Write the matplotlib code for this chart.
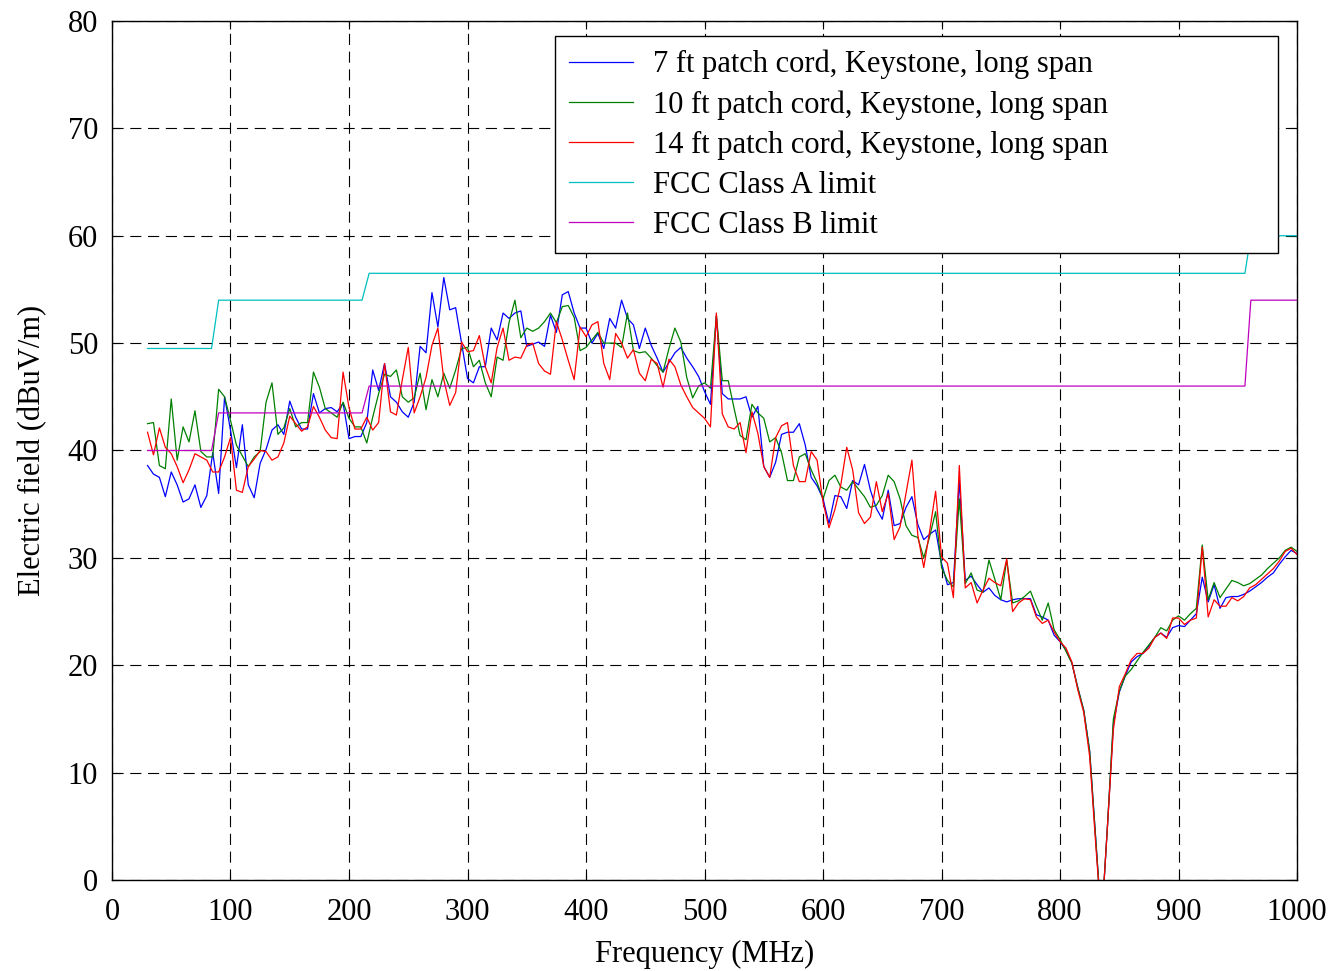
import numpy as np
import matplotlib
matplotlib.use("Agg")
import matplotlib.pyplot as plt

plt.rcParams['font.family'] = ['Liberation Serif', 'DejaVu Serif']

# Frequency sweep (MHz), 5 MHz steps
freq = np.arange(30, 1001, 5)

# 7 ft patch cord
blue = [38.6, 37.8, 37.5, 35.7, 38.0, 36.8, 35.2, 35.5, 36.8, 34.7,
        35.8, 39.8, 36.0, 45.0, 41.9, 38.4, 42.4, 36.8, 35.6, 38.8,
        40.1, 41.9, 42.4, 41.5, 44.6, 43.1, 42.0, 42.0, 45.3, 43.5,
        43.9, 44.0, 43.6, 44.4, 41.1, 41.3, 41.3, 42.6, 47.5, 45.6,
        48.1, 45.0, 44.5, 43.6, 43.1, 44.5, 49.7, 49.1, 54.7, 51.5,
        56.1, 53.1, 53.3, 50.0, 46.7, 46.3, 47.8, 47.8, 51.4, 50.3,
        52.8, 52.3, 52.8, 53.0, 49.7, 49.9, 50.1, 49.7, 52.6, 51.0,
        54.5, 54.8, 52.8, 51.4, 51.4, 50.0, 50.9, 49.5, 52.3, 51.4,
        54.0, 52.3, 51.7, 49.5, 51.4, 49.8, 48.6, 47.3, 48.2, 49.1,
        49.6, 48.6, 47.8, 46.9, 45.5, 44.3, 52.5, 45.3, 44.8, 44.8,
        44.8, 45.0, 43.1, 44.1, 38.5, 37.5, 38.9, 41.5, 41.7, 41.7,
        42.5, 40.5, 37.5, 36.7, 35.5, 33.2, 35.8, 35.7, 34.6, 37.2,
        36.8, 38.7, 36.3, 34.6, 33.6, 36.3, 33.0, 33.2, 34.7, 35.7,
        33.1, 31.7, 32.2, 32.6, 29.5, 27.5, 27.7, 37.2, 27.9, 28.3,
        27.5, 26.8, 27.2, 26.5, 26.1, 25.9, 26.1, 26.2, 26.2, 26.2,
        24.7, 24.5, 24.2, 22.8, 22.2, 21.4, 20.2, 17.9, 15.8, 12.0,
        4.0, -4.0, 5.0, 14.5, 17.5, 19.0, 20.3, 20.8, 21.1, 21.8,
        22.6, 23.0, 22.6, 23.5, 23.7, 23.6, 24.2, 24.8, 28.2, 25.9,
        27.5, 25.3, 26.3, 26.4, 26.4, 26.6, 26.9, 27.3, 27.7, 28.2,
        28.6, 29.4, 30.1, 30.7, 30.4]

# 10 ft patch cord
green = [42.5, 42.6, 38.6, 38.3, 44.8, 39.1, 42.2, 40.8, 43.7, 39.9,
         39.4, 39.4, 45.7, 45.0, 42.8, 40.5, 39.5, 38.5, 39.4, 39.9,
         44.5, 46.3, 41.5, 42.1, 43.9, 42.2, 42.6, 42.6, 47.3, 45.9,
         43.9, 43.5, 43.1, 44.5, 43.0, 42.2, 42.2, 40.7, 43.1, 45.3,
         47.1, 46.9, 47.5, 45.0, 44.5, 44.9, 47.2, 43.8, 46.6, 45.0,
         47.2, 45.8, 47.5, 49.5, 49.6, 47.8, 48.4, 46.3, 45.0, 48.7,
         48.4, 51.9, 54.0, 50.5, 51.4, 51.1, 51.4, 52.0, 52.8, 51.9,
         53.4, 53.5, 52.4, 49.3, 49.6, 50.3, 51.0, 50.0, 50.0, 50.0,
         49.6, 52.8, 49.3, 49.1, 49.2, 48.6, 47.9, 47.3, 49.5, 51.4,
         50.1, 46.8, 44.9, 46.0, 46.3, 45.8, 52.6, 46.5, 46.5, 43.9,
         41.4, 41.0, 44.3, 43.5, 43.0, 40.8, 41.2, 39.8, 37.2, 37.2,
         39.4, 39.7, 38.2, 37.0, 35.5, 37.2, 37.7, 36.6, 36.3, 37.1,
         36.4, 35.7, 34.7, 34.9, 35.8, 37.7, 37.1, 35.5, 33.0, 32.1,
         31.9, 30.0, 32.0, 34.3, 29.1, 27.9, 27.3, 35.5, 27.6, 28.6,
         27.0, 26.8, 29.8, 28.0, 26.1, 29.8, 25.8, 26.0, 26.4, 26.9,
         25.5, 24.2, 25.8, 23.3, 22.4, 21.3, 20.2, 17.9, 15.8, 12.0,
         4.0, -4.0, 5.0, 15.0, 17.6, 19.0, 19.6, 20.4, 21.2, 21.9,
         22.6, 23.5, 23.2, 24.2, 24.6, 24.2, 24.8, 25.3, 31.2, 26.1,
         27.7, 26.3, 27.1, 27.9, 27.7, 27.4, 27.6, 28.0, 28.4, 29.0,
         29.5, 30.0, 30.7, 31.0, 30.6]

# 14 ft patch cord
red = [41.7, 39.6, 42.1, 40.3, 39.7, 38.5, 37.0, 38.2, 39.7, 39.4,
       39.1, 38.0, 38.0, 39.4, 41.2, 36.3, 36.1, 38.5, 39.2, 40.0,
       39.9, 39.1, 39.4, 40.7, 43.2, 42.5, 41.8, 42.2, 44.1, 43.1,
       41.9, 41.2, 41.1, 47.3, 44.0, 42.0, 42.0, 43.1, 41.9, 42.6,
       48.1, 43.6, 43.3, 46.6, 49.6, 43.5, 45.0, 46.8, 49.8, 51.4,
       46.6, 44.2, 45.4, 50.1, 49.2, 49.3, 50.7, 47.8, 46.3, 49.6,
       51.4, 48.4, 48.7, 48.6, 49.8, 50.0, 48.1, 47.4, 47.1, 52.0,
       50.3, 48.4, 46.6, 51.5, 50.6, 51.7, 52.0, 48.1, 46.6, 50.9,
       50.0, 48.6, 49.4, 47.2, 46.5, 48.5, 48.1, 45.9, 48.5, 47.8,
       46.1, 45.0, 44.0, 43.5, 43.0, 42.2, 52.8, 43.4, 42.2, 42.0,
       42.6, 39.8, 43.6, 41.6, 38.5, 37.5, 41.2, 42.3, 42.6, 38.6,
       37.1, 37.1, 39.9, 39.1, 35.2, 32.8, 34.5, 36.8, 40.3, 38.2,
       34.2, 33.2, 33.8, 37.1, 34.3, 36.0, 31.7, 32.9, 36.0, 39.1,
       32.1, 29.1, 32.5, 36.2, 30.1, 29.5, 26.3, 38.6, 27.2, 27.7,
       25.8, 27.0, 28.1, 27.7, 27.4, 29.9, 25.0, 25.8, 26.2, 26.1,
       24.5, 23.9, 24.2, 23.1, 22.2, 21.6, 20.3, 17.7, 15.6, 11.5,
       3.5, -4.0, 5.0, 14.0, 18.0, 19.2, 20.5, 21.1, 21.1, 21.6,
       22.6, 23.0, 22.5, 24.4, 24.4, 23.8, 24.2, 24.4, 31.0, 24.5,
       26.1, 25.5, 25.5, 26.3, 26.0, 26.4, 27.2, 27.5, 28.0, 28.5,
       29.0, 29.7, 30.6, 30.9, 30.3]

# FCC limits (3 m)
lim_f = [30, 84, 90, 211, 217, 956, 961, 1000]
class_a = [49.5, 49.5, 54, 54, 56.5, 56.5, 60, 60]
class_b = [40, 40, 43.5, 43.5, 46, 46, 54, 54]

fig = plt.figure(figsize=(13.38, 9.71), dpi=100)
ax = fig.add_axes([0.0837, 0.0937, 0.8857, 0.8847])

ax.plot(freq, blue, color=(0, 0, 1), lw=0.9, label="7 ft patch cord, Keystone, long span")
ax.plot(freq, green, color=(0, 0.5, 0), lw=0.9, label="10 ft patch cord, Keystone, long span")
ax.plot(freq, red, color=(1, 0, 0), lw=0.9, label="14 ft patch cord, Keystone, long span")
ax.plot(lim_f, class_a, color=(0, 0.75, 0.75), lw=0.9, zorder=3, label="FCC Class A limit")
ax.plot(lim_f, class_b, color=(0.75, 0, 0.75), lw=0.9, zorder=3, label="FCC Class B limit")

ax.set_xlim(0, 1000)
ax.set_ylim(0, 80)
ax.set_xticks(np.arange(0, 1001, 100))
ax.set_yticks(np.arange(0, 81, 10))
ax.grid(True, color='black', linestyle=(0, (10, 6)), linewidth=0.8)
ax.tick_params(direction='in', length=6, top=True, right=True, labelsize=22)
ax.tick_params(axis='x', pad=13)
ax.tick_params(axis='y', pad=10)
for s in ax.spines.values():
    s.set_linewidth(1.0)

ax.set_xlabel("Frequency (MHz)", fontsize=22, labelpad=9)
ax.set_ylabel("Electric field (dBuV/m)", fontsize=22, labelpad=15)

leg = ax.legend(loc='upper left', bbox_to_anchor=(0.3738, 0.7369, 0.6101, 0.2456),
                mode='expand', borderaxespad=0, fontsize=22, fancybox=False,
                framealpha=1, edgecolor='black', handlelength=2.1, handletextpad=0.65,
                labelspacing=0.355, borderpad=0.45)
leg.get_frame().set_linewidth(1.0)
# nudge legend handles/text slightly right like the original
for h in leg.get_lines():
    h.set_linewidth(0.9)

fig.savefig("out.png", dpi=100)
